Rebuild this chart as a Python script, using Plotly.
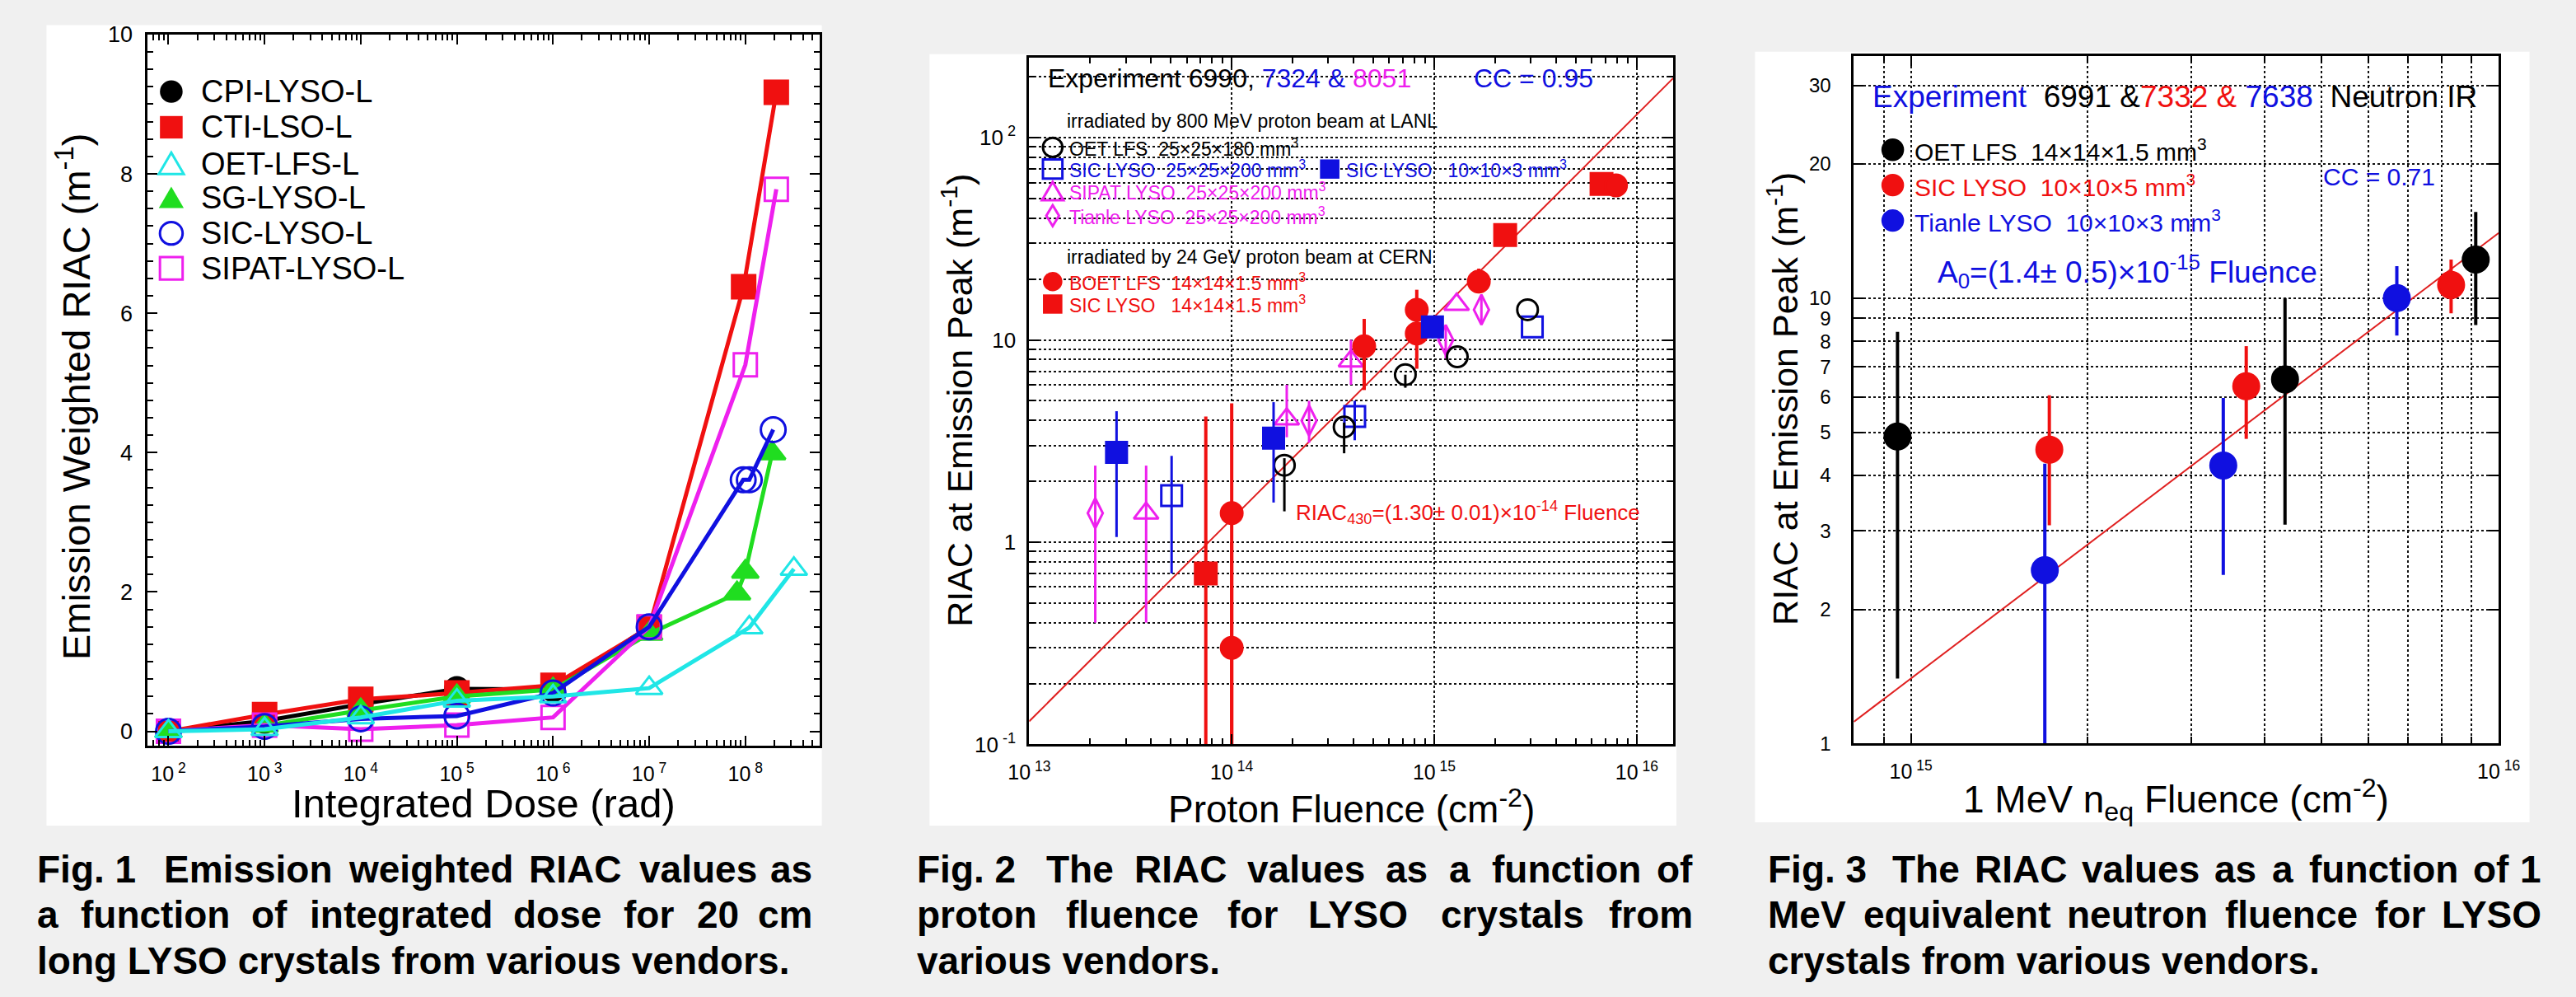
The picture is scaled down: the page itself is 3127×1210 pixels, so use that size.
import plotly.graph_objects as go

W, H = 3127, 1210
FONT = "Liberation Sans, Arial, sans-serif"
NB = "\u00a0"

# ---------------- Fig. 1 data (integrated dose, rad / RIAC, m^-1) ----------------
dose_cpi = [1e2, 1e3, 1e4, 1e5, 1e6, 1e7]
riac_cpi = [0.0, 0.15, 0.39, 0.61, 0.60, 1.50]
dose_cti = [1e2, 1e3, 1e4, 1e5, 1e6, 1e7, 9.6e7, 2.1e8]
riac_cti = [0.0, 0.24, 0.46, 0.55, 0.66, 1.49, 6.38, 9.17]
dose_oet = [1e2, 1e3, 1e4, 1e5, 1e6, 1e7, 1.1e8, 3.2e8]
riac_oet = [0.0, 0.03, 0.20, 0.44, 0.50, 0.62, 1.49, 2.33]
dose_sg = [1e2, 1e3, 1e4, 1e5, 1e6, 1e7, 8.2e7, 1e8, 1.9e8]
riac_sg = [0.0, 0.08, 0.30, 0.50, 0.60, 1.40, 1.98, 2.29, 3.99]
dose_sic = [1e2, 1e3, 1e4, 1e5, 1e6, 1e7, 9.5e7, 1.1e8, 1.95e8]
riac_sic = [0.0, 0.07, 0.18, 0.22, 0.55, 1.50, 3.61, 3.61, 4.33]
dose_sipat = [1e2, 1e3, 1e4, 1e5, 1e6, 1e7, 1e8, 2.1e8]
riac_sipat = [0.0, 0.09, 0.03, 0.09, 0.20, 1.50, 5.26, 7.78]
fig1_names = ["CPI-LYSO-L", "CTI-LSO-L", "OET-LFS-L", "SG-LYSO-L", "SIC-LYSO-L", "SIPAT-LYSO-L"]

# ---------------- Fig. 2 data (proton fluence cm^-2 / RIAC at peak) ----------------
oet_f = [1.82e14, 3.59e14, 7.2e14, 1.3e15, 2.89e15]
oet_r = [2.4, 3.71, 6.73, 8.25, 14.1]
oet_lo = [1.42, 2.75, 5.8, 8.25, 14.1]
oet_hi = [2.6, 3.9, 6.73, 8.25, 14.1]

sic25_f = [5.05e13, 4.05e14, 3.05e15]
sic25_r = [1.70, 4.18, 11.6]
sic25_lo = [0.70, 3.19, 11.6]
sic25_hi = [2.67, 5.0, 11.6]

sic10_f = [2.7e13, 1.61e14, 9.8e14]
sic10_r = [2.78, 3.27, 11.6]
sic10_lo = [1.06, 1.57, 10.2]
sic10_hi = [4.44, 4.92, 13.0]

sipat_f = [3.78e13, 1.87e14, 3.88e14, 1.29e15]
sipat_r = [1.39, 4.06, 7.86, 14.96]
sipat_lo = [0.40, 3.3, 6.0, 14.96]
sipat_hi = [2.39, 6.0, 10.0, 14.96]

tianle_f = [2.12e13, 2.41e14, 1.14e15, 1.71e15]
tianle_r = [1.39, 3.99, 10.0, 14.1]
tianle_lo = [0.40, 3.1, 8.1, 12.0]
tianle_hi = [2.39, 5.0, 11.6, 16.2]

boet_f = [1.0e14, 1.0e14, 4.51e14, 8.2e14, 8.2e14, 1.66e15, 7.9e15]
boet_r = [1.39, 0.30, 9.3, 14.1, 10.75, 19.4, 58.0]
boet_lo = [0.05, 0.05, 5.65, 14.1, 7.2, 17.0, 58.0]
boet_hi = [4.86, 1.0, 12.7, 17.7, 14.1, 22.5, 58.0]

sic14_f = [7.45e13, 2.24e15, 6.7e15]
sic14_r = [0.70, 33.0, 59.0]
sic14_lo = [0.05, 33.0, 59.0]
sic14_hi = [4.18, 33.0, 59.0]

fit2_coef = 1.30e-14
fit2_span = [1e13, 10 ** 16.18]

# ---------------- Fig. 3 data (1 MeV neq fluence / RIAC at peak) ----------------
oet3_f = [9.49e14, 4.33e15, 9.14e15]
oet3_r = [4.89, 6.57, 12.2]
oet3_lo = [1.40, 3.10, 8.7]
oet3_hi = [8.4, 10.0, 15.6]

sic3_f = [1.72e15, 3.72e15, 8.3e15]
sic3_r = [4.57, 6.34, 10.7]
sic3_lo = [3.09, 4.83, 9.24]
sic3_hi = [6.05, 7.8, 12.2]

tianle3_f = [1.69e15, 3.40e15, 6.71e15]
tianle3_r = [2.45, 4.21, 10.0]
tianle3_lo = [0.9, 2.39, 8.24]
tianle3_hi = [4.25, 5.97, 11.8]

fit3_coef = 1.4e-15
fit3_span = [8.0e14, 1e16]

# ---------------- tick labels ----------------
x1_ticks = [10 ** e for e in range(2, 9)]
x1_text = ["10<sup>" + NB + "%d</sup>" % e for e in range(2, 9)]
y1_ticks = [0, 2, 4, 6, 8, 10]
x2_ticks = [1e13, 1e14, 1e15, 1e16]
x2_text = ["10<sup>" + NB + "%d</sup>" % e for e in (13, 14, 15, 16)]
y2_ticks = [0.1, 1, 10, 100]
y2_text = ["10<sup>" + NB + "-1</sup>", "1", "10", "10<sup>" + NB + "2</sup>"]
x3_ticks = [1e15, 1e16]
x3_text = ["10<sup>" + NB + "15</sup>", "10<sup>" + NB + "16</sup>"]
y3_ticks = [1, 2, 3, 4, 5, 6, 7, 8, 9, 10, 20, 30]
y3_text = [str(v) for v in y3_ticks]

# ---------------- captions ----------------
cap1 = ["Fig. 1", "Emission weighted RIAC values as",
        "a function of integrated dose for 20 cm",
        "long LYSO crystals from various vendors."]
cap2 = ["Fig. 2", "The RIAC values as a function of",
        "proton fluence for LYSO crystals from",
        "various vendors."]
cap3 = ["Fig. 3", "The RIAC values as a function of 1",
        "MeV equivalent neutron fluence for LYSO",
        "crystals from various vendors."]

RED, BLUE, MAG, GREEN, CYAN = "#f01010", "#1010e0", "#ee20ee", "#20dd20", "#20e6e6"

fig = go.Figure()

# ---------------- Fig. 1 traces ----------------
f1 = [
    (dose_cpi, riac_cpi, "black", "circle", 28),
    (dose_cti, riac_cti, RED, "square", 28),
    (dose_sg, riac_sg, GREEN, "triangle-up", 28),
    (dose_sipat, riac_sipat, MAG, "square-open", 28),
    (dose_sic, riac_sic, BLUE, "circle-open", 30),
    (dose_oet, riac_oet, CYAN, "triangle-up-open", 28),
]
for x, y, c, sym, sz in f1:
    fig.add_trace(go.Scatter(x=x, y=y, mode="lines+markers", xaxis="x", yaxis="y",
                             line=dict(color=c, width=5),
                             marker=dict(color=c, symbol=sym, size=sz, line=dict(color=c, width=3))))


def errs(v, lo, hi):
    return [h - a for a, h in zip(v, hi)], [a - l for a, l in zip(v, lo)]


def pts(x, y, lo, hi, c, sym, sz, xa, ya, thick=3):
    p, m = errs(y, lo, hi)
    fig.add_trace(go.Scatter(x=x, y=y, mode="markers", xaxis=xa, yaxis=ya,
                             marker=dict(color=c, symbol=sym, size=sz, line=dict(color=c, width=3)),
                             error_y=dict(type="data", symmetric=False, array=p, arrayminus=m,
                                          color=c, thickness=thick, width=0)))


# ---------------- Fig. 2 traces ----------------
fig.add_trace(go.Scatter(x=fit2_span, y=[fit2_coef * f for f in fit2_span], mode="lines",
                         xaxis="x2", yaxis="y2", line=dict(color="#e02020", width=2)))
pts(tianle_f, tianle_r, tianle_lo, tianle_hi, MAG, "diamond-tall-open", 26, "x2", "y2")
pts(sipat_f, sipat_r, sipat_lo, sipat_hi, MAG, "triangle-up-open", 26, "x2", "y2")
pts(sic25_f, sic25_r, sic25_lo, sic25_hi, BLUE, "square-open", 25, "x2", "y2")
pts(oet_f, oet_r, oet_lo, oet_hi, "black", "circle-open", 25, "x2", "y2")
pts(sic14_f, sic14_r, sic14_lo, sic14_hi, RED, "square", 26, "x2", "y2", thick=4)
pts(boet_f, boet_r, boet_lo, boet_hi, RED, "circle", 26, "x2", "y2", thick=4)
pts(sic10_f, sic10_r, sic10_lo, sic10_hi, BLUE, "square", 25, "x2", "y2")

# ---------------- Fig. 3 traces ----------------
fig.add_trace(go.Scatter(x=fit3_span, y=[fit3_coef * f for f in fit3_span], mode="lines",
                         xaxis="x3", yaxis="y3", line=dict(color="#e02020", width=2)))
pts(tianle3_f, tianle3_r, tianle3_lo, tianle3_hi, BLUE, "circle", 31, "x3", "y3", thick=4)
pts(sic3_f, sic3_r, sic3_lo, sic3_hi, RED, "circle", 31, "x3", "y3", thick=4)
pts(oet3_f, oet3_r, oet3_lo, oet3_hi, "black", "circle", 31, "x3", "y3", thick=4)

# ---------------- axes ----------------
def ax(**kw):
    d = dict(showline=True, linecolor="black", linewidth=3, mirror="allticks",
             ticks="inside", tickcolor="black", tickwidth=2, ticklen=12, zeroline=False,
             showgrid=False, tickfont=dict(family=FONT, size=25, color="black"))
    d.update(kw)
    return d


def dom(a, b, total):
    return [a / total, b / total]


def ydom(top, bot):
    return [1 - bot / H, 1 - top / H]


GRID = dict(showgrid=True, gridcolor="#111", griddash="dot", gridwidth=1.6)


def logminor(e0, e1):
    return [m * 10 ** e for e in range(e0, e1) for m in range(2, 10)]


layout = dict(
    width=W, height=H, autosize=False, margin=dict(l=0, r=0, t=0, b=0),
    paper_bgcolor="#f0f0f0", plot_bgcolor="white", showlegend=False,
    font=dict(family=FONT, color="black"), hovermode=False,
    xaxis=ax(type="log", domain=dom(156, 985, W), range=[1.785, 8.77], anchor="y",
             tickmode="array", tickvals=x1_ticks, ticktext=x1_text, ticklabelstandoff=10,
             minor=dict(tickmode="array", tickvals=logminor(1, 9), ticks="inside", ticklen=7,
                        tickwidth=2, tickcolor="black")),
    yaxis=ax(domain=ydom(27.6, 913), range=[-0.21, 10], anchor="x", tickmode="array",
             tickvals=y1_ticks, ticklabelstandoff=10, tickfont=dict(family=FONT, size=27, color="black"),
             minor=dict(dtick=0.25, tick0=0, ticks="inside", ticklen=7, tickwidth=2,
                        tickcolor="black")),
    xaxis2=ax(type="log", domain=dom(1244, 2039, W), range=[13, 16.18], anchor="y2",
              tickmode="array", tickvals=x2_ticks, ticktext=x2_text, ticklabelstandoff=10,
              **GRID,
              minor=dict(tickmode="array", tickvals=logminor(13, 17), ticks="inside", ticklen=7,
                         tickwidth=2, tickcolor="black", showgrid=False)),
    yaxis2=ax(type="log", domain=ydom(56, 911), range=[-1, 2.397], anchor="x2",
              tickmode="array", tickvals=y2_ticks, ticktext=y2_text, ticklabelstandoff=8,
              tickfont=dict(family=FONT, size=26, color="black"), **GRID,
              minor=dict(tickmode="array", tickvals=logminor(-1, 3), ticks="inside", ticklen=7,
                         tickwidth=2, tickcolor="black", showgrid=True, gridcolor="#111",
                         griddash="dot", gridwidth=1.6)),
    xaxis3=ax(type="log", domain=dom(2262, 3058, W), range=[14.903, 16.0], anchor="y3",
              tickmode="array", tickvals=x3_ticks, ticktext=x3_text, ticklabelstandoff=10,
              **GRID,
              minor=dict(tickmode="array", tickvals=logminor(14, 16), ticks="inside", ticklen=8,
                         tickwidth=2, tickcolor="black", showgrid=True, gridcolor="#111",
                         griddash="dot", gridwidth=1.6)),
    yaxis3=ax(type="log", domain=ydom(54.5, 910), range=[0, 1.543], anchor="x3",
              tickmode="array", tickvals=y3_ticks, ticktext=y3_text, ticklabelstandoff=20,
              tickfont=dict(family=FONT, size=24, color="black"), **GRID),
)
fig.update_layout(**layout)

# ---------------- panel backgrounds ----------------
shapes = []
for x0, y0, x1, y1 in [(31, 16, 988, 1012), (1121, 52, 2043, 1012), (2140, 49, 3096, 1008)]:
    shapes.append(dict(type="rect", xref="paper", yref="paper", x0=x0 / W, x1=x1 / W,
                       y0=1 - y1 / H, y1=1 - y0 / H, fillcolor="white", line=dict(width=0),
                       layer="below"))


def swatch(cx, cy, kind, color, s, filled, lw=3):
    fc = color if filled else "rgba(0,0,0,0)"
    ln = dict(color=color, width=0 if filled else lw)
    if kind in ("circle", "square"):
        shapes.append(dict(type="circle" if kind == "circle" else "rect", xref="paper", yref="paper",
                           x0=(cx - s / 2) / W, x1=(cx + s / 2) / W,
                           y0=1 - (cy + s / 2) / H, y1=1 - (cy - s / 2) / H,
                           fillcolor=fc, line=ln, layer="above"))
    else:
        if kind == "triangle":
            pts_ = [(cx - s * 0.55, cy + s * 0.45), (cx + s * 0.55, cy + s * 0.45), (cx, cy - s * 0.5)]
        else:  # tall diamond
            pts_ = [(cx, cy - s / 2), (cx + s * 0.3, cy), (cx, cy + s / 2), (cx - s * 0.3, cy)]
        path = "M " + " L ".join("%.6f,%.6f" % (x / W, 1 - y / H) for x, y in pts_) + " Z"
        shapes.append(dict(type="path", xref="paper", yref="paper", path=path,
                           fillcolor=fc, line=ln, layer="above"))


annotations = []


def A(x, y, text, size, color="black", xa="left", ya="middle", angle=0):
    annotations.append(dict(x=x / W, y=1 - y / H, xref="paper", yref="paper", text=text,
                            showarrow=False, xanchor=xa, yanchor=ya, textangle=angle,
                            font=dict(family=FONT, size=size, color=color)))


def span(t, c):
    return '<span style="color:%s">%s</span>' % (c, t)


# ---- Fig.1 legend & titles
leg1 = [("circle", "black", True), ("square", RED, True), ("triangle", CYAN, False),
        ("triangle", GREEN, True), ("circle", BLUE, False), ("square", MAG, False)]
rows1 = [98.6, 143, 188.6, 231, 275, 318.6]
for (k, c, f), yy, name in zip(leg1, rows1, fig1_names):
    swatch(185, yy, k, c, 28, f)
    A(220, yy, name, 38)
A(570, 984, "Integrated Dose (rad)", 49, xa="center")
A(64, 478, "Emission Weighted RIAC (m<sup>-1</sup>)", 47, xa="center", angle=-90)

# ---- Fig.2 legend & titles
A(1265, 82, "Experiment 6990, " + span("7324 &", BLUE) + " " + span("8051", MAG), 32)
A(1791, 82, "CC = 0.95", 32, color=BLUE)
A(1288, 135, "irradiated by 800 MeV proton beam at LANL", 23)
swatch(1273, 168, "circle", "black", 24, False)
A(1291, 168, "OET LFS" + NB * 2 + "25×25×180 mm<sup>3</sup>", 23)
swatch(1273, 195, "square", BLUE, 24, False)
A(1291, 195, "SIC LYSO" + NB * 2 + "25×25×200 mm<sup>3</sup>", 23, color=BLUE)
swatch(1615, 195, "square", BLUE, 24, True)
A(1633, 195, "SIC LYSO" + NB * 3 + "10×10×3 mm<sup>3</sup>", 23, color=BLUE)
swatch(1273, 223, "triangle", MAG, 24, False)
A(1291, 223, "SIPAT LYSO" + NB * 2 + "25×25×200 mm<sup>3</sup>", 23, color=MAG)
swatch(1273, 253, "diamond", MAG, 26, False)
A(1291, 253, "Tianle LYSO" + NB * 2 + "25×25×200 mm<sup>3</sup>", 23, color=MAG)
A(1288, 305, "irradiated by 24 GeV proton beam at CERN", 23)
swatch(1273, 335, "circle", RED, 24, True)
A(1291, 335, "BOET LFS" + NB * 2 + "14×14×1.5 mm<sup>3</sup>", 23, color=RED)
swatch(1273, 363, "square", RED, 24, True)
A(1291, 363, "SIC LYSO" + NB * 3 + "14×14×1.5 mm<sup>3</sup>", 23, color=RED)
A(1571, 622, "RIAC<sub>430</sub>=(1.30± 0.01)×10<sup>-14</sup> Fluence", 26, color=RED)
A(1642, 988, "Proton Fluence (cm<sup>-2</sup>)", 46, xa="center")
A(1155, 483, "RIAC at Emission Peak (m<sup>-1</sup>)", 43, xa="center", angle=-90)

# ---- Fig.3 legend & titles
A(2283, 105, span("Experiment", BLUE) + NB * 2 + "6991 &" + span("7332 &", RED) + " "
  + span("7638", BLUE) + NB * 2 + "Neutron IR", 37)
leg3 = [("black", "OET LFS" + NB * 2 + "14×14×1.5 mm<sup>3</sup>"),
        (RED, "SIC LYSO" + NB * 2 + "10×10×5 mm<sup>3</sup>"),
        (BLUE, "Tianle LYSO" + NB * 2 + "10×10×3 mm<sup>3</sup>")]
for (c, t), yy in zip(leg3, [171, 215, 259]):
    swatch(2310, yy, "circle", c, 28, True)
    A(2335, yy, t, 30, color=c)
A(2839, 205, "CC = 0.71", 30, color=BLUE)
A(2363, 323, "A<sub>0</sub>=(1.4± 0.5)×10<sup>-15</sup> Fluence", 37, color=BLUE)
A(2660, 980, "1 MeV n<sub>eq</sub> Fluence (cm<sup>-2</sup>)", 46, xa="center")
A(2174, 481, "RIAC at Emission Peak (m<sup>-1</sup>)", 43, xa="center", angle=-90)

# ---- captions (justified like the original, using Arial Bold advance widths)
AW = {" ": 278, ".": 278, "0": 556, "1": 556, "2": 556, "3": 556,
      "A": 722, "C": 722, "E": 667, "F": 611, "I": 278, "L": 611, "M": 833, "O": 778,
      "R": 722, "S": 667, "T": 611, "V": 667, "Y": 667,
      "a": 556, "b": 611, "c": 556, "d": 611, "e": 556, "f": 333, "g": 611, "h": 611,
      "i": 278, "j": 278, "k": 556, "l": 278, "m": 889, "n": 611, "o": 611, "p": 611,
      "q": 611, "r": 389, "s": 556, "t": 333, "u": 611, "v": 556, "w": 778, "x": 556,
      "y": 556, "z": 500}
CAP_SIZE = 46


def tw(s):
    return sum(AW.get(ch, 556) for ch in s) / 1000.0 * CAP_SIZE


def justified(words, left, right, y, extra_after_first=0.0):
    total = sum(tw(w) for w in words)
    gap = (right - left - total - extra_after_first) / (len(words) - 1)
    x = left
    for i, w in enumerate(words):
        if i == len(words) - 1:
            A(right, y, "<b>" + w + "</b>", CAP_SIZE, xa="right")
        else:
            A(x, y, "<b>" + w + "</b>", CAP_SIZE)
        x += tw(w) + gap + (extra_after_first if i == 0 else 0)


cap_rows = [1066, 1123, 1180]
for cap, (lft, rgt) in zip([cap1, cap2, cap3], [(17, 978), (1103, 2065), (2154, 3113)]):
    justified([cap[0]] + cap[1].split(" "), lft, rgt, cap_rows[0], extra_after_first=tw(" "))
    justified(cap[2].split(" "), lft, rgt, cap_rows[1])
    A(lft, cap_rows[2], "<b>" + cap[3] + "</b>", CAP_SIZE)

fig.update_layout(shapes=shapes, annotations=annotations)
fig.write_html("out.html")
